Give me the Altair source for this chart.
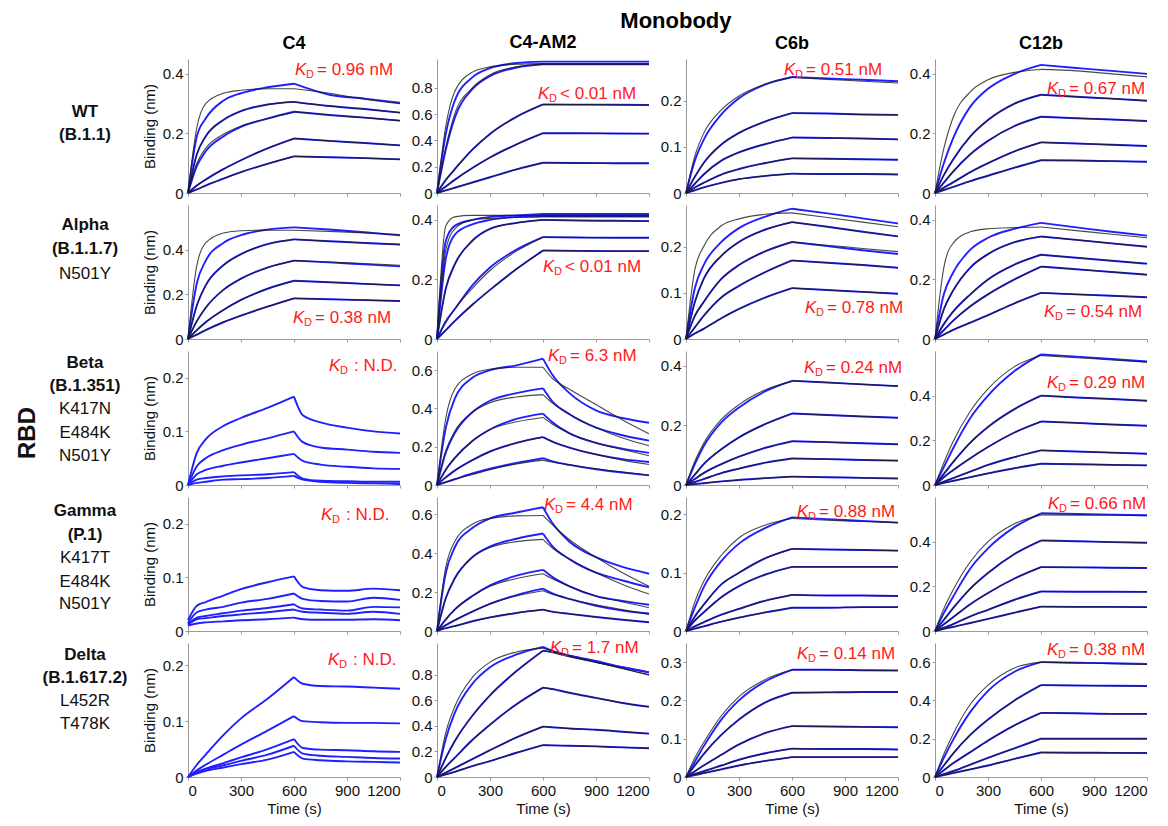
import altair as alt
import pandas as pd

FONT = "Arial, 'Liberation Sans', Helvetica, sans-serif"
BLUE = "#1f1fff"
FITC = "#1a1a1a"
RED = "#ff1a1a"

# time grids (s): association phase and dissociation phase
TA = [0, 50, 100, 200, 300, 450, 600]
TD4 = [600, 800, 1000, 1200]
TD6 = [600, 650, 750, 900, 1050, 1200]

COLS = ["C4", "C4-AM2", "C6b", "C12b"]

# each curve: (obs assoc, obs dissoc, fit assoc or None, fit dissoc or None)
WT_C4 = [
    ([0, .19, .25, .31, .335, .355, .367], [.367, .33, .317, .303], [0, .22, .30, .335, .345, .35, .35], [.35, .335, .315, .30]),
    ([0, .13, .19, .245, .275, .297, .306], [.306, .292, .282, .27]),
    ([0, .09, .14, .19, .222, .25, .273], [.273, .262, .253, .243], [0, .10, .15, .197, .225, .25, .271], None),
    ([0, .025, .045, .08, .11, .15, .183], [.183, .175, .168, .16]),
    ([0, .012, .025, .048, .07, .098, .123], [.123, .12, .117, .113]),
]
WT_AM2 = [
    ([0, .45, .70, .88, .95, .99, 1.0], [1.0, 1.0, 1.0, 1.0], [0, .51, .77, .92, .96, .98, .985], [.985, .985, .985, .985]),
    ([0, .33, .57, .79, .89, .955, .98], [.98, .98, .98, .98], [0, .35, .60, .80, .90, .96, .98], None),
    ([0, .10, .18, .33, .45, .58, .674], [.674, .673, .672, .67]),
    ([0, .05, .10, .19, .27, .37, .455], [.455, .455, .453, .452]),
    ([0, .02, .04, .08, .12, .18, .23], [.23, .228, .227, .226]),
]
WT_C6B = [
    ([0, .07, .115, .17, .205, .235, .251], [.251, .248, .245, .242], [0, .08, .129, .18, .21, .236, .25], [.25, .246, .242, .238]),
    ([0, .035, .065, .105, .13, .155, .173], [.173, .172, .17, .169]),
    ([0, .02, .04, .07, .088, .106, .12], [.12, .119, .118, .116]),
    ([0, .012, .022, .04, .052, .065, .075], [.075, .074, .073, .072]),
    ([0, .006, .012, .022, .03, .037, .042], [.042, .041, .041, .04]),
]
WT_C12B = [
    ([0, .10, .18, .29, .35, .40, .43], [.43, .42, .41, .40], [0, .15, .25, .34, .38, .405, .415], [.415, .41, .40, .39]),
    ([0, .06, .11, .19, .245, .30, .33], [.33, .323, .317, .31]),
    ([0, .035, .07, .13, .175, .225, .256], [.256, .251, .247, .242]),
    ([0, .018, .035, .07, .10, .14, .17], [.17, .166, .162, .158]),
    ([0, .01, .02, .04, .058, .085, .11], [.11, .109, .107, .105]),
]
ALPHA_C4 = [
    ([0, .25, .35, .43, .465, .49, .50], [.50, .49, .478, .464], [0, .33, .43, .475, .485, .487, .487], [.487, .482, .475, .468]),
    ([0, .15, .24, .33, .38, .425, .446], [.446, .438, .43, .423]),
    ([0, .08, .14, .22, .27, .32, .351], [.351, .343, .334, .325], None, [.351, .345, .338, .33]),
    ([0, .04, .075, .13, .175, .225, .261], [.261, .254, .247, .24]),
    ([0, .02, .04, .075, .105, .145, .182], [.182, .178, .174, .17]),
]
ALPHA_AM2 = [
    ([0, .33, .38, .40, .41, .415, .42], [.42, .42, .42, .42], [0, .38, .41, .415, .415, .415, .415], [.415, .415, .415, .415]),
    ([0, .27, .35, .385, .40, .41, .413], [.413, .413, .413, .413], [0, .30, .37, .40, .405, .408, .41], [.41, .41, .41, .41]),
    ([0, .17, .25, .33, .37, .39, .40], [.40, .398, .397, .396]),
    ([0, .06, .10, .18, .24, .30, .342], [.342, .341, .34, .34], [0, .055, .10, .17, .23, .295, .342], None),
    ([0, .03, .06, .115, .165, .235, .297], [.297, .296, .295, .295]),
]
ALPHA_C6B = [
    ([0, .11, .16, .21, .24, .265, .282], [.282, .272, .261, .25], [0, .15, .20, .245, .26, .27, .273], [.273, .263, .253, .243]),
    ([0, .08, .13, .18, .21, .237, .253], [.253, .243, .232, .222]),
    ([0, .05, .08, .13, .16, .19, .21], [.21, .201, .192, .184], None, [.21, .203, .196, .189]),
    ([0, .025, .05, .09, .115, .145, .17], [.17, .165, .16, .154]),
    ([0, .012, .022, .045, .065, .09, .11], [.11, .106, .102, .098]),
]
ALPHA_C12B = [
    ([0, .15, .22, .30, .34, .37, .39], [.39, .375, .36, .347], [0, .24, .32, .36, .37, .374, .376], [.376, .364, .352, .34]),
    ([0, .10, .16, .24, .285, .325, .344], [.344, .333, .321, .31]),
    ([0, .05, .09, .15, .20, .25, .283], [.283, .273, .263, .253]),
    ([0, .03, .06, .11, .15, .20, .243], [.243, .234, .225, .216]),
    ([0, .015, .03, .055, .08, .12, .155], [.155, .15, .145, .14]),
]
BETA_C4 = [
    ([0, .06, .085, .11, .125, .144, .165], [.165, .13, .117, .107, .10, .096]),
    ([0, .035, .05, .065, .075, .087, .10], [.10, .08, .07, .066, .062, .06]),
    ([0, .02, .028, .036, .042, .05, .058], [.058, .045, .038, .034, .031, .03]),
    ([0, .01, .013, .016, .018, .02, .024], [.024, .012, .008, .007, .006, .006]),
    ([0, .004, .006, .01, .011, .013, .017], [.017, .01, .006, .004, .003, .002]),
]
BETA_AM2 = [
    ([0, .30, .45, .56, .60, .625, .66], [.66, .58, .48, .39, .35, .325], [0, .35, .50, .58, .605, .615, .615], [.615, .56, .50, .42, .34, .268]),
    ([0, .17, .27, .38, .44, .48, .505], [.505, .44, .37, .30, .26, .232], [0, .18, .28, .38, .43, .46, .472], [.472, .43, .37, .30, .245, .205]),
    ([0, .08, .14, .23, .29, .345, .373], [.373, .33, .27, .22, .19, .168], [0, .08, .14, .23, .29, .33, .353], [.353, .32, .27, .22, .185, .153]),
    ([0, .04, .075, .13, .175, .22, .25], [.25, .228, .195, .16, .135, .12], None, [.25, .228, .195, .16, .13, .107]),
    ([0, .015, .03, .06, .085, .115, .14], [.14, .125, .105, .082, .065, .05], [0, .015, .03, .055, .08, .11, .13], [.13, .12, .105, .085, .068, .052]),
]
BETA_C6B = [
    ([0, .07, .13, .21, .26, .315, .35], [.35, .344, .338, .332], [0, .08, .14, .22, .27, .32, .348], None),
    ([0, .035, .07, .12, .16, .205, .24], [.24, .235, .23, .226]),
    ([0, .02, .04, .07, .095, .125, .147], [.147, .144, .14, .137]),
    ([0, .01, .02, .04, .055, .075, .089], [.089, .087, .084, .082]),
    ([0, .003, .006, .012, .017, .023, .028], [.028, .026, .024, .022]),
]
BETA_C12B = [
    ([0, .08, .16, .30, .40, .51, .585], [.585, .575, .564, .553], [0, .10, .19, .33, .43, .53, .58], [.58, .57, .56, .55]),
    ([0, .05, .10, .19, .26, .34, .40], [.40, .392, .385, .377]),
    ([0, .035, .065, .12, .17, .235, .284], [.284, .278, .271, .265]),
    ([0, .015, .03, .06, .09, .125, .155], [.155, .15, .145, .14]),
    ([0, .01, .018, .035, .052, .075, .095], [.095, .093, .09, .088]),
]
GAMMA_C4 = [
    ([.02, .047, .054, .066, .078, .091, .102], [.102, .082, .076, .075, .079, .076]),
    ([.015, .035, .04, .045, .053, .06, .07], [.07, .06, .056, .055, .062, .058]),
    ([.012, .025, .028, .033, .038, .043, .05], [.05, .042, .04, .038, .045, .044]),
    ([.012, .022, .024, .028, .031, .035, .04], [.04, .036, .034, .032, .036, .032]),
    ([.01, .014, .016, .018, .02, .022, .025], [.025, .022, .021, .021, .022, .02]),
]
GAMMA_AM2 = [
    ([0, .30, .43, .53, .58, .61, .637], [.637, .56, .46, .38, .33, .295], [0, .33, .46, .55, .58, .593, .595], [.595, .55, .47, .38, .30, .23]),
    ([0, .17, .27, .38, .435, .475, .502], [.502, .44, .37, .30, .26, .225], [0, .17, .27, .38, .43, .46, .472], [.472, .43, .37, .30, .24, .19]),
    ([0, .06, .11, .18, .235, .285, .315], [.315, .28, .23, .18, .155, .135], [0, .06, .11, .18, .23, .27, .295], [.295, .27, .23, .18, .15, .12]),
    ([0, .03, .055, .10, .14, .185, .218], [.218, .195, .165, .13, .105, .09], [0, .03, .055, .10, .14, .18, .207], [.207, .19, .165, .135, .11, .085]),
    ([0, .015, .025, .05, .07, .093, .11], [.11, .10, .088, .072, .058, .045]),
]
GAMMA_C6B = [
    ([0, .04, .075, .12, .15, .177, .195], [.195, .192, .189, .186], [0, .05, .085, .13, .16, .182, .193], [.193, .19, .188, .186]),
    ([0, .025, .045, .08, .10, .125, .141], [.141, .14, .139, .138]),
    ([0, .018, .032, .058, .077, .097, .11], [.11, .11, .11, .11]),
    ([0, .008, .015, .028, .038, .052, .062], [.062, .061, .061, .06]),
    ([0, .004, .008, .016, .023, .032, .04], [.04, .04, .041, .041]),
]
GAMMA_C12B = [
    ([0, .08, .15, .28, .37, .465, .527], [.527, .524, .521, .518], [0, .10, .18, .31, .40, .48, .52], [.52, .519, .518, .516]),
    ([0, .05, .10, .19, .26, .345, .405], [.405, .402, .398, .395]),
    ([0, .03, .06, .12, .17, .235, .286], [.286, .285, .283, .282]),
    ([0, .015, .03, .065, .095, .14, .177], [.177, .176, .176, .175]),
    ([0, .01, .018, .036, .054, .082, .109], [.109, .108, .108, .107]),
]
DELTA_C4 = [
    ([0, .022, .04, .075, .105, .14, .179], [.179, .167, .163, .162, .16, .158]),
    ([0, .012, .022, .04, .058, .083, .109], [.109, .10, .098, .097, .097, .096]),
    ([0, .008, .015, .025, .035, .05, .068], [.068, .052, .049, .048, .046, .045]),
    ([0, .009, .014, .021, .029, .04, .056], [.056, .042, .038, .036, .034, .033]),
    ([0, .006, .011, .017, .023, .031, .045], [.045, .033, .03, .028, .027, .026]),
]
DELTA_AM2 = [
    ([0, .30, .50, .73, .86, .96, 1.02], [1.02, .99, .95, .90, .86, .82], [0, .35, .55, .78, .90, .98, 1.01], [1.01, .99, .95, .90, .85, .80]),
    ([0, .15, .28, .48, .64, .83, .99], [.99, .98, .95, .91, .86, .82], None, [.99, .975, .94, .90, .85, .80]),
    ([0, .08, .15, .29, .41, .57, .70], [.70, .69, .66, .62, .58, .55]),
    ([0, .035, .07, .14, .21, .31, .395], [.395, .39, .38, .37, .355, .34]),
    ([0, .02, .04, .085, .125, .19, .25], [.25, .248, .245, .24, .232, .225]),
]
DELTA_C6B = [
    ([0, .04, .08, .15, .20, .25, .28], [.28, .28, .279, .278], [0, .05, .09, .16, .21, .255, .28], None),
    ([0, .03, .06, .11, .15, .195, .22], [.22, .221, .222, .222]),
    ([0, .015, .03, .058, .085, .115, .133], [.133, .132, .131, .13]),
    ([0, .008, .015, .03, .045, .062, .074], [.074, .073, .073, .072]),
    ([0, .005, .01, .02, .03, .042, .052], [.052, .052, .052, .052]),
]
DELTA_C12B = [
    ([0, .10, .19, .34, .45, .55, .60], [.60, .597, .594, .59], [0, .12, .22, .38, .48, .57, .60], [.60, .596, .592, .588]),
    ([0, .06, .12, .22, .30, .40, .48], [.48, .478, .477, .475]),
    ([0, .035, .07, .13, .19, .27, .335], [.335, .333, .33, .33]),
    ([0, .015, .03, .065, .10, .15, .20], [.20, .20, .20, .20]),
    ([0, .01, .02, .04, .06, .095, .128], [.128, .127, .126, .125]),
]

PANEL_CURVES = [
    [WT_C4, WT_AM2, WT_C6B, WT_C12B],
    [ALPHA_C4, ALPHA_AM2, ALPHA_C6B, ALPHA_C12B],
    [BETA_C4, BETA_AM2, BETA_C6B, BETA_C12B],
    [GAMMA_C4, GAMMA_AM2, GAMMA_C6B, GAMMA_C12B],
    [DELTA_C4, DELTA_AM2, DELTA_C6B, DELTA_C12B],
]
D_TIMES = [
    [TD4, TD4, TD4, TD4],
    [TD4, TD4, TD4, TD4],
    [TD6, TD6, TD4, TD4],
    [TD6, TD6, TD4, TD4],
    [TD6, TD6, TD4, TD4],
]
HAS_FIT = [
    [True, True, True, True],
    [True, True, True, True],
    [False, True, True, True],
    [False, True, True, True],
    [False, True, True, True],
]
Y_TOP = [
    [0.45, 1.02, 0.29, 0.45],
    [0.60, 0.45, 0.29, 0.45],
    [0.25, 0.70, 0.45, 0.60],
    [0.25, 0.69, 0.23, 0.60],
    [0.24, 1.05, 0.35, 0.70],
]
Y_TICKS = [
    [[0, .2, .4], [0, .2, .4, .6, .8], [0, .1, .2], [0, .2, .4]],
    [[0, .2, .4], [0, .2, .4], [0, .1, .2], [0, .2, .4]],
    [[0, .1, .2], [0, .2, .4, .6], [0, .2, .4], [0, .2, .4]],
    [[0, .1, .2], [0, .2, .4, .6], [0, .1, .2], [0, .2, .4]],
    [[0, .1, .2], [0, .2, .4, .6, .8], [0, .1, .2, .3], [0, .2, .4, .6]],
]
X_TICKS = [0, 300, 600, 900, 1200]

KD_TEXT = [
    ["= 0.96 nM", "< 0.01 nM", "= 0.51 nM", "= 0.67 nM"],
    ["= 0.38 nM", "< 0.01 nM", "= 0.78 nM", "= 0.54 nM"],
    [": N.D.", "= 6.3 nM", "= 0.24 nM", "= 0.29 nM"],
    [": N.D.", "= 4.4 nM", "= 0.88 nM", "= 0.66 nM"],
    [": N.D.", "= 1.7 nM", "= 0.14 nM", "= 0.38 nM"],
]
# layout: position of the K_D label inside each panel (pixels from plot top-left)
KD_POS = [
    [(107, 11), (101, 35), (98, 11), (112, 30)],
    [(105, 113), (106, 62), (119, 103), (109, 107)],
    [(141, 15), (111, 5), (118, 17), (112, 32)],
    [(133, 18), (107, 8), (111, 15), (113, 7)],
    [(140, 17), (113, 5), (111, 11), (112, 7)],
]

ROW_LABELS = [
    [("WT", True), ("(B.1.1)", True)],
    [("Alpha", True), ("(B.1.1.7)", True), ("N501Y", False)],
    [("Beta", True), ("(B.1.351)", True), ("K417N", False), ("E484K", False), ("N501Y", False)],
    [("Gamma", True), ("(P.1)", True), ("K417T", False), ("E484K", False), ("N501Y", False)],
    [("Delta", True), ("(B.1.617.2)", True), ("L452R", False), ("T478K", False)],
]
ROW_LABEL_Y = [[53, 76], [20, 44, 69], [12, 35, 58, 82, 105], [14, 38, 61, 85, 107], [12, 35, 58, 81]]

W, H = 212, 134
LW = 138
DUMMY = pd.DataFrame({"k": [0]})


def kd_layers(r, c):
    px, py = KD_POS[r][c]
    txt = KD_TEXT[r][c]
    base = alt.Chart(DUMMY)
    k = base.mark_text(text="K", fontStyle="italic", fontSize=17, color=RED, align="left",
                       baseline="middle", font=FONT).encode(x=alt.value(px), y=alt.value(py))
    sub = base.mark_text(text="D", fontSize=11, color=RED, align="left", baseline="middle",
                         font=FONT).encode(x=alt.value(px + 11), y=alt.value(py + 5))
    dx = 25 if txt.startswith(":") else 22
    rest = base.mark_text(text=txt, fontSize=17, color=RED, align="left", baseline="middle",
                          font=FONT).encode(x=alt.value(px + dx), y=alt.value(py))
    return [k, sub, rest]


def panel(r, c):
    curves = PANEL_CURVES[r][c]
    td = D_TIMES[r][c]
    recs = []
    for k, cv in enumerate(curves):
        a, d = cv[0], cv[1]
        fa = cv[2] if len(cv) > 2 and cv[2] is not None else a
        fd = cv[3] if len(cv) > 3 and cv[3] is not None else d
        sets = [("obs", a, d)]
        if HAS_FIT[r][c]:
            sets.append(("fit", fa, fd))
        for kind, aa, dd in sets:
            for t, v in zip(TA, aa):
                recs.append({"t": t, "v": v, "seg": f"{k}a", "kind": kind})
            for t, v in zip(td, dd):
                recs.append({"t": t, "v": v, "seg": f"{k}d", "kind": kind})
    df = pd.DataFrame(recs)
    bottom = r == 4
    if bottom:
        xaxis = alt.Axis(values=X_TICKS, format="d", title="Time (s)", labelPadding=3, titlePadding=3)
    else:
        xaxis = alt.Axis(values=X_TICKS, labels=False, title=None)
    if c == 0:
        yaxis = alt.Axis(values=Y_TICKS[r][c], format="~g", title="Binding (nm)", titlePadding=5)
    else:
        yaxis = alt.Axis(values=Y_TICKS[r][c], format="~g", title=None)
    base = alt.Chart(df).encode(
        x=alt.X("t:Q", scale=alt.Scale(domain=[0, 1200], nice=False), axis=xaxis),
        y=alt.Y("v:Q", scale=alt.Scale(domain=[0, Y_TOP[r][c]], nice=False), axis=yaxis),
        detail="seg:N",
    )
    layers = [base.transform_filter("datum.kind == 'obs'").mark_line(
        color=BLUE, strokeWidth=1.9, interpolate="monotone")]
    if HAS_FIT[r][c]:
        layers.append(base.transform_filter("datum.kind == 'fit'").mark_line(
            color=FITC, strokeWidth=1.1, opacity=0.8, interpolate="monotone"))
    layers += kd_layers(r, c)
    ch = alt.layer(*layers).properties(width=W, height=H)
    if r == 0:
        ch = ch.properties(title=alt.TitleParams(COLS[c], fontSize=18, fontWeight="bold",
                                                 font=FONT, offset=6, anchor="middle"))
    return ch


def label_cell(r):
    base = alt.Chart(DUMMY)
    marks = []
    for (txt, bold), yy in zip(ROW_LABELS[r], ROW_LABEL_Y[r]):
        marks.append(base.mark_text(text=txt, fontSize=17, fontWeight="bold" if bold else "normal",
                                    font=FONT, align="center", baseline="middle", color="#111")
                     .encode(x=alt.value(72), y=alt.value(yy)))
    if r == 2:
        marks.append(base.mark_text(text="RBD", fontSize=24, fontWeight="bold", font=FONT,
                                    angle=270, align="center", baseline="middle", color="#111")
                     .encode(x=alt.value(15), y=alt.value(82)))
    return alt.layer(*marks).properties(width=LW, height=H)


cells = []
for r in range(5):
    cells.append(label_cell(r))
    for c in range(4):
        cells.append(panel(r, c))

chart = alt.concat(
    *cells, columns=5, spacing={"row": 12, "column": 37}, bounds="flush",
    padding={"left": 5, "top": 1, "right": 0, "bottom": 2},
    title=alt.TitleParams("Monobody", fontSize=22, fontWeight="bold", font=FONT,
                          anchor="middle", dx=94, offset=1),
).resolve_scale(x="independent", y="independent").configure_view(stroke=None).configure_axis(
    grid=False, domainColor="#9a9a9a", tickColor="#9a9a9a", tickSize=3,
    labelFontSize=15, titleFontSize=15, labelFont=FONT, titleFont=FONT,
    labelColor="#111", titleColor="#111", titleFontWeight="normal", labelPadding=2,
)

chart.save("out.html", embed_options={"renderer": "svg", "actions": False})
